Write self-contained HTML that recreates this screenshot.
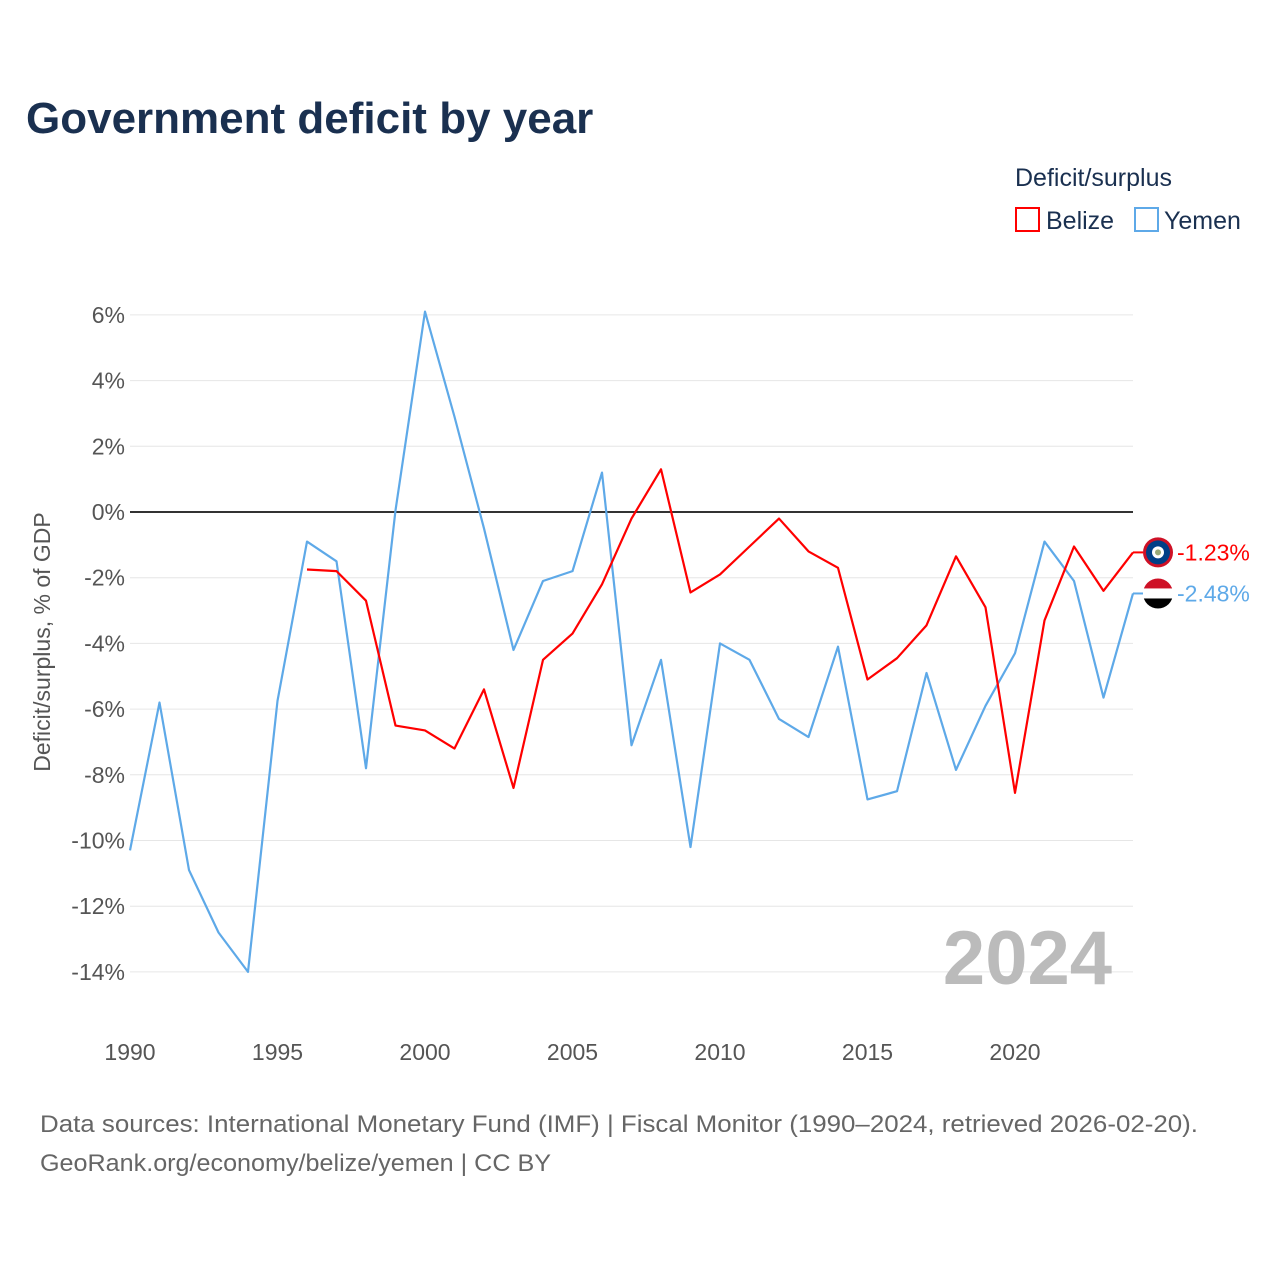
<!DOCTYPE html>
<html><head><meta charset="utf-8"><style>
body{margin:0;background:#fff;width:1280px;height:1280px;overflow:hidden;font-family:"Liberation Sans",sans-serif}
</style></head><body>
<svg width="1280" height="1280" font-family="Liberation Sans, sans-serif">
<text x="26" y="133" font-size="44" font-weight="bold" fill="#1a3050">Government deficit by year</text>
<text x="1015" y="186" font-size="25" fill="#1a3050">Deficit/surplus</text>
<g><rect x="1016" y="208" width="23" height="23" fill="none" stroke="#f00" stroke-width="2"/><text x="1046" y="229" font-size="25" fill="#1a3050">Belize</text></g>
<g><rect x="1135" y="208" width="23" height="23" fill="none" stroke="#5ea9e8" stroke-width="2"/><text x="1164" y="229" font-size="25" fill="#1a3050">Yemen</text></g>
<text transform="translate(50,642) rotate(-90)" text-anchor="middle" font-size="23" fill="#555">Deficit/surplus, % of GDP</text>
<g id="grid"></g><g id="lines"></g>
<text x="1112" y="984" text-anchor="end" font-size="76" font-weight="bold" fill="#bbb">2024</text>
<text x="40" y="1132" font-size="24" fill="#666" textLength="1158" lengthAdjust="spacingAndGlyphs">Data sources: International Monetary Fund (IMF) | Fiscal Monitor (1990–2024, retrieved 2026-02-20).</text>
<text x="40" y="1171" font-size="24" fill="#666" textLength="511" lengthAdjust="spacingAndGlyphs">GeoRank.org/economy/belize/yemen | CC BY</text>
</svg>
<script>
const yTicks=[6,4,2,0,-2,-4,-6,-8,-10,-12,-14];
const xTicks=[1990,1995,2000,2005,2010,2015,2020];
const yemenYears=[1990,1991,1992,1993,1994,1995,1996,1997,1998,1999,2000,2001,2002,2003,2004,2005,2006,2007,2008,2009,2010,2011,2012,2013,2014,2015,2016,2017,2018,2019,2020,2021,2022,2023,2024];
const yemenVals=[-10.3,-5.8,-10.9,-12.8,-14.0,-5.75,-0.9,-1.5,-7.8,0.05,6.1,2.9,-0.5,-4.2,-2.1,-1.8,1.2,-7.1,-4.5,-10.2,-4.0,-4.5,-6.3,-6.85,-4.1,-8.75,-8.5,-4.9,-7.85,-5.9,-4.3,-0.9,-2.1,-5.65,-2.48];
const belizeYears=[1996,1997,1998,1999,2000,2001,2002,2003,2004,2005,2006,2007,2008,2009,2010,2011,2012,2013,2014,2015,2016,2017,2018,2019,2020,2021,2022,2023,2024];
const belizeVals=[-1.75,-1.8,-2.7,-6.5,-6.65,-7.2,-5.4,-8.4,-4.5,-3.7,-2.2,-0.2,1.3,-2.45,-1.9,-1.05,-0.2,-1.2,-1.7,-5.1,-4.45,-3.45,-1.35,-2.9,-8.55,-3.3,-1.05,-2.4,-1.23];
const NS='http://www.w3.org/2000/svg';
const X=yr=>130+(yr-1990)*29.5;
const Y=v=>512-v*32.85;
const grid=document.getElementById('grid'),lines=document.getElementById('lines');
function mk(tag,attrs,parent){const e=document.createElementNS(NS,tag);for(const k in attrs)e.setAttribute(k,attrs[k]);parent.appendChild(e);return e;}
yTicks.forEach(t=>{
 const l=mk('line',{x1:130,x2:1133,y1:Y(t),y2:Y(t),stroke:t===0?'#333':'#e6e6e6','stroke-width':t===0?2:1},grid);
 
 
 const tx=mk('text',{x:125,y:Y(t)+8,'text-anchor':'end','font-size':23,fill:'#555'},grid);
 tx.textContent=t+'%';
 
 
});
xTicks.forEach(t=>{
 const tx=mk('text',{x:X(t),y:1060,'text-anchor':'middle','font-size':23,fill:'#555'},grid);
 tx.textContent=t;
 
 
});
function series(yrs,vals,color,name){
 const p=mk('polyline',{points:yrs.map((y,i)=>X(y)+','+Y(vals[i])).join(' '),fill:'none',stroke:color,'stroke-width':2.2,'stroke-linejoin':'round'},lines);
 
 
}
series(yemenYears,yemenVals,'#5ea9e8','yemen');
series(belizeYears,belizeVals,'#f00','belize');
function endLabel(v,color,name,flag){
 const y=Y(v);
 mk('line',{x1:1133,x2:1143,y1:y,y2:y,stroke:color,'stroke-width':2},lines);
 const g=mk('g',{},lines);
 
 
 flag(g,1158,y);
 const tx=mk('text',{x:1177,y:y+8,'font-size':23,fill:color},lines);
 tx.textContent=v.toFixed(2)+'%';
 
 
}
endLabel(belizeVals[belizeVals.length-1],'#f00','belize',(g,x,y)=>{
 mk('circle',{cx:x,cy:y,r:15,fill:'#ce1126'},g);
 mk('circle',{cx:x,cy:y,r:12,fill:'#003f87'},g);
 mk('circle',{cx:x,cy:y,r:6,fill:'#fff'},g);
 mk('circle',{cx:x,cy:y,r:3,fill:'#9a7'},g);
});
endLabel(yemenVals[yemenVals.length-1],'#5ea9e8','yemen',(g,x,y)=>{
 const cp=mk('clipPath',{id:'yc'},g);
 mk('circle',{cx:x,cy:y,r:15},cp);
 mk('rect',{x:x-15,y:y-15,width:30,height:10,fill:'#ce1126','clip-path':'url(#yc)'},g);
 mk('rect',{x:x-15,y:y-5,width:30,height:10,fill:'#fff','clip-path':'url(#yc)'},g);
 mk('rect',{x:x-15,y:y+5,width:30,height:10,fill:'#000','clip-path':'url(#yc)'},g);
});
</script>
</body></html>
